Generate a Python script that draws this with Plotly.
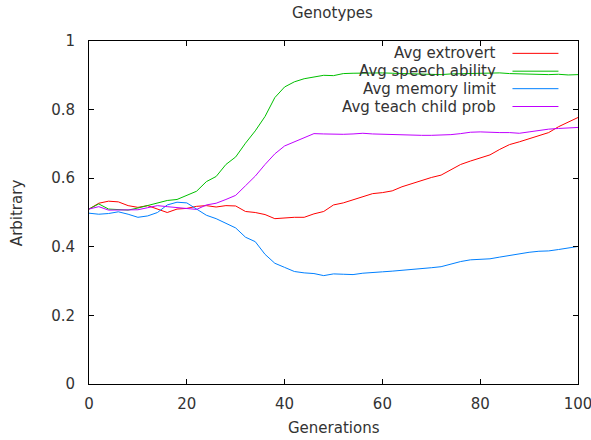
import plotly.graph_objects as go

# Generation index (sampled every 2 generations)
generations = list(range(0, 101, 2))

avg_extrovert = [
    0.510, 0.527, 0.533, 0.531, 0.520, 0.515, 0.520, 0.511, 0.500, 0.510,
    0.512, 0.518, 0.520, 0.516, 0.520, 0.519, 0.503, 0.500, 0.494, 0.482,
    0.485, 0.486, 0.486, 0.496, 0.503, 0.522, 0.528, 0.537, 0.546, 0.555,
    0.558, 0.563, 0.575, 0.584, 0.594, 0.602, 0.609, 0.625, 0.640, 0.650,
    0.660, 0.668, 0.684, 0.698, 0.706, 0.715, 0.726, 0.733, 0.750, 0.763,
    0.777,
]

avg_speech_ability = [
    0.510, 0.525, 0.510, 0.509, 0.507, 0.513, 0.520, 0.527, 0.535, 0.538,
    0.550, 0.562, 0.590, 0.605, 0.640, 0.662, 0.702, 0.738, 0.780, 0.835,
    0.866, 0.881, 0.890, 0.896, 0.900, 0.899, 0.905, 0.906, 0.907, 0.908,
    0.907, 0.906, 0.905, 0.904, 0.903, 0.903, 0.902, 0.904, 0.905, 0.906,
    0.907, 0.908, 0.907, 0.905, 0.904, 0.902, 0.903, 0.902, 0.903, 0.901,
    0.902,
]

avg_memory_limit = [
    0.498, 0.495, 0.497, 0.502, 0.495, 0.486, 0.490, 0.500, 0.522, 0.530,
    0.528, 0.510, 0.492, 0.482, 0.468, 0.455, 0.428, 0.415, 0.378, 0.352,
    0.340, 0.328, 0.324, 0.322, 0.316, 0.321, 0.320, 0.319, 0.323, 0.326,
    0.327, 0.329, 0.331, 0.333, 0.336, 0.339, 0.342, 0.350, 0.357, 0.362,
    0.364, 0.365, 0.370, 0.375, 0.380, 0.384, 0.387, 0.388, 0.392, 0.397,
    0.401,
]

avg_teach_child_prob = [
    0.510, 0.517, 0.507, 0.507, 0.506, 0.508, 0.514, 0.520, 0.517, 0.514,
    0.512, 0.509, 0.522, 0.527, 0.538, 0.550, 0.578, 0.606, 0.640, 0.671,
    0.694, 0.706, 0.718, 0.730, 0.729, 0.728, 0.728, 0.729, 0.731, 0.729,
    0.728, 0.726, 0.725, 0.725, 0.725, 0.725, 0.725, 0.727, 0.730, 0.734,
    0.735, 0.733, 0.733, 0.733, 0.731, 0.735, 0.740, 0.743, 0.745, 0.746,
    0.748,
]

series_names = ["Avg extrovert", "Avg speech ability", "Avg memory limit", "Avg teach child prob"]
series_values = [avg_extrovert, avg_speech_ability, avg_memory_limit, avg_teach_child_prob]
series_colors = ["#ff0000", "#00c000", "#0080ff", "#c000ff"]

x_ticks = [0, 20, 40, 60, 80, 100]
y_ticks = [0, 0.2, 0.4, 0.6, 0.8, 1]
y_tick_text = ["0", "0.2", "0.4", "0.6", "0.8", "1"]

FONT = "DejaVu Sans"
TEXT = "#333333"

fig = go.Figure()
for name, vals, col in zip(series_names, series_values, series_colors):
    fig.add_trace(go.Scatter(
        x=generations, y=vals, mode="lines", name=name,
        line=dict(color=col, width=1), showlegend=False,
    ))

# Key in the upper right: right-aligned labels followed by a line sample
key_rows = [0.964, 0.912, 0.861, 0.809]
for name, col, yk in zip(series_names, series_colors, key_rows):
    fig.add_annotation(
        xref="paper", yref="paper", x=0.836, y=yk, text=name,
        showarrow=False, xanchor="right", yanchor="middle",
        font=dict(family=FONT, size=15, color=TEXT),
    )
    fig.add_shape(
        type="line", xref="paper", yref="paper",
        x0=0.866, x1=0.960, y0=yk, y1=yk,
        line=dict(color=col, width=1),
    )

# Axis titles
fig.add_annotation(
    xref="paper", yref="paper", x=0.5, y=-0.128, text="Generations",
    showarrow=False, xanchor="center", yanchor="middle",
    font=dict(family=FONT, size=15, color=TEXT),
)
fig.add_annotation(
    xref="paper", yref="paper", x=-0.148, y=0.5, text="Arbitrary",
    showarrow=False, xanchor="center", yanchor="middle", textangle=-90,
    font=dict(family=FONT, size=15, color=TEXT),
)

axis_common = dict(
    showline=True, linecolor="#000000", linewidth=1, mirror="ticks",
    ticks="inside", ticklen=5, tickcolor="#000000", tickwidth=1,
    showgrid=False, zeroline=False, ticklabeloverflow="allow", automargin=False,
    tickfont=dict(family=FONT, size=15, color=TEXT),
)

fig.update_layout(
    width=591, height=440,
    margin=dict(l=89, r=13, t=41, b=56),
    paper_bgcolor="white", plot_bgcolor="white",
    title=dict(text="Genotypes", x=0.5625, xanchor="center", y=0.971, yanchor="middle",
               font=dict(family=FONT, size=15, color=TEXT)),
    xaxis=dict(range=[0, 100], tickvals=x_ticks, ticklabelstandoff=6, **axis_common),
    yaxis=dict(range=[0, 1], tickvals=y_ticks, ticktext=y_tick_text, ticklabelstandoff=10,
               **axis_common),
)

fig.write_html("out.html")
